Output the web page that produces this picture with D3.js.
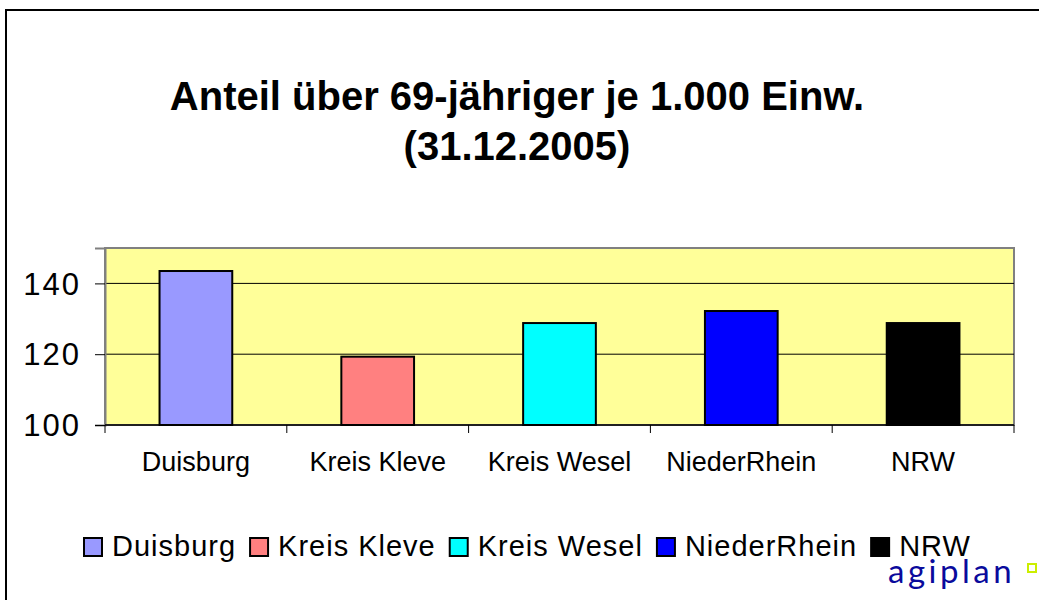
<!DOCTYPE html>
<html>
<head>
<meta charset="utf-8">
<script src="https://cdn.jsdelivr.net/npm/d3@7"></script>
<style>
  body { margin: 0; background: #fff; }
  svg { display: block; font-family: "Liberation Sans", Arial, sans-serif; }
  .ylab { font-size: 31px; letter-spacing: 2px; fill: #000; }
</style>
</head>
<body>
<svg id="chart" width="1039" height="600"></svg>
<script>
const TITLE_LINES = ["Anteil über 69-jähriger je 1.000 Einw.", "(31.12.2005)"];
const CATEGORIES = ["Duisburg", "Kreis Kleve", "Kreis Wesel", "NiederRhein", "NRW"];
const VALUES = [143.5, 119.3, 128.8, 132.2, 128.8];
const COLORS = ["#9999ff", "#ff8080", "#00ffff", "#0000ff", "#000000"];
const Y_TICKS = [100, 120, 140];
const Y_DOMAIN = [100, 150];

const svg = d3.select("#chart");
const plot = { left: 105, right: 1014, top: 248, bottom: 425 };

// outer chart frame
svg.append("rect")
  .attr("x", 6).attr("y", 10)
  .attr("width", 1100).attr("height", 700)
  .attr("fill", "none").attr("stroke", "#000").attr("stroke-width", 2);

svg.append("text")
  .attr("x", 517).attr("y", 110)
  .attr("text-anchor", "middle")
  .style("font-size", "40px").attr("font-weight", "bold")
  .selectAll("tspan")
  .data(TITLE_LINES)
  .join("tspan")
  .attr("x", 517)
  .attr("dy", (d, i) => i === 0 ? 0 : 50)
  .text(d => d);

const x = d3.scaleBand().domain(CATEGORIES).range([plot.left, plot.right]).padding(0);
const y = d3.scaleLinear().domain(Y_DOMAIN).range([plot.bottom, plot.top]);

svg.append("rect")
  .attr("x", plot.left).attr("y", plot.top)
  .attr("width", plot.right - plot.left).attr("height", plot.bottom - plot.top)
  .attr("fill", "#ffff99").attr("stroke", "#808080").attr("stroke-width", 2);

svg.append("g")
  .selectAll("line")
  .data(Y_TICKS.filter(d => d > Y_DOMAIN[0]))
  .join("line")
  .attr("x1", plot.left).attr("x2", plot.right)
  .attr("y1", d => y(d)).attr("y2", d => y(d))
  .attr("stroke", "#000").attr("stroke-width", 1);

const bw = x.bandwidth() * 0.4;
svg.append("g")
  .selectAll("rect")
  .data(CATEGORIES.map((c, i) => ({ c, v: VALUES[i], color: COLORS[i] })))
  .join("rect")
  .attr("x", d => x(d.c) + (x.bandwidth() - bw) / 2)
  .attr("y", d => y(d.v))
  .attr("width", bw)
  .attr("height", d => y(Y_DOMAIN[0]) - y(d.v))
  .attr("fill", d => d.color)
  .attr("stroke", "#000").attr("stroke-width", 2);

// y axis: ticks from d3, labels drawn separately
const yAxis = svg.append("g")
  .attr("transform", `translate(${plot.left},0)`)
  .call(d3.axisLeft(y).tickValues(Y_TICKS).tickSize(10).tickFormat(""));
yAxis.select(".domain").attr("stroke", "#808080").attr("stroke-width", 2);
yAxis.selectAll(".tick line").attr("stroke", "#000");
svg.append("g")
  .selectAll("text")
  .data(Y_TICKS)
  .join("text")
  .attr("class", "ylab")
  .attr("x", plot.left - 24)
  .attr("y", d => y(d))
  .attr("dy", "0.36em")
  .attr("text-anchor", "end")
  .text(d => d);

// x axis with ticks on category boundaries
const xg = svg.append("g");
xg.append("line")
  .attr("x1", plot.left).attr("x2", plot.right)
  .attr("y1", plot.bottom).attr("y2", plot.bottom)
  .attr("stroke", "#000").attr("stroke-width", 1.5);
xg.selectAll(".bt")
  .data(CATEGORIES.map(c => x(c)).concat([x(CATEGORIES[CATEGORIES.length - 1]) + x.bandwidth()]))
  .join("line")
  .attr("x1", d => d).attr("x2", d => d)
  .attr("y1", plot.bottom).attr("y2", plot.bottom + 8)
  .attr("stroke", "#000");
xg.selectAll("text")
  .data(CATEGORIES)
  .join("text")
  .attr("x", d => x(d) + x.bandwidth() / 2)
  .attr("y", 471)
  .attr("text-anchor", "middle")
  .style("font-size", "27px")
  .text(d => d);

// legend
const legend = svg.append("g");
let lx = 84;
CATEGORIES.forEach((c, i) => {
  legend.append("rect")
    .attr("x", lx).attr("y", 538).attr("width", 18).attr("height", 18)
    .attr("fill", COLORS[i]).attr("stroke", "#000").attr("stroke-width", 2);
  const t = legend.append("text")
    .attr("x", lx + 28).attr("y", 556)
    .style("font-size", "29px").attr("letter-spacing", 1)
    .text(c);
  lx += 28 + t.node().getComputedTextLength() + 14;
});

// logo
svg.append("text")
  .attr("x", 888).attr("y", 583)
  .attr("font-family", "Lato, 'Open Sans', sans-serif")
  .style("font-size", "33px").attr("letter-spacing", 3.5)
  .attr("fill", "#0a0a9c")
  .text("agiplan");
svg.append("rect")
  .attr("x", 1028).attr("y", 564).attr("width", 8).attr("height", 8)
  .attr("fill", "none").attr("stroke", "#ccee00").attr("stroke-width", 2);
</script>
</body>
</html>
